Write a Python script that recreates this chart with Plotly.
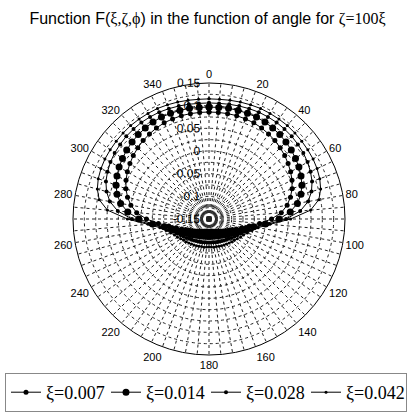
import plotly.graph_objects as go

# Angle in degrees (0 at top, clockwise), one sample every 5 degrees
angles = list(range(0, 365, 5))

# F(xi, zeta, phi) for zeta = 100 xi, one list per xi value
f_xi_0007 = [
    0.086, 0.086, 0.086, 0.086, 0.085, 0.084, 0.082, 0.079, 0.076, 0.072, 0.068, 0.063,
    0.058, 0.052, 0.045, 0.036, 0.025, 0.010, -0.012, -0.038, -0.060, -0.075, -0.086, -0.094,
    -0.100, -0.105, -0.109, -0.112, -0.115, -0.117, -0.119, -0.120, -0.121, -0.122, -0.123, -0.123,
    -0.123,
    -0.123, -0.123, -0.122, -0.121, -0.120, -0.119, -0.117, -0.115, -0.112, -0.109, -0.105, -0.100,
    -0.094, -0.086, -0.075, -0.060, -0.038, -0.012, 0.010, 0.025, 0.036, 0.045, 0.052, 0.058,
    0.063, 0.068, 0.072, 0.076, 0.079, 0.082, 0.084, 0.085, 0.086, 0.086, 0.086,
    0.086,
]
f_xi_0014 = [
    0.097, 0.097, 0.098, 0.098, 0.098, 0.098, 0.097, 0.095, 0.093, 0.090, 0.087, 0.083,
    0.079, 0.074, 0.068, 0.060, 0.048, 0.030, 0.005, -0.025, -0.050, -0.065, -0.075, -0.083,
    -0.089, -0.094, -0.098, -0.101, -0.104, -0.106, -0.108, -0.109, -0.110, -0.111, -0.112, -0.112,
    -0.112,
    -0.112, -0.112, -0.111, -0.110, -0.109, -0.108, -0.106, -0.104, -0.101, -0.098, -0.094, -0.089,
    -0.083, -0.075, -0.065, -0.050, -0.025, 0.005, 0.030, 0.048, 0.060, 0.068, 0.074, 0.079,
    0.083, 0.087, 0.090, 0.093, 0.095, 0.097, 0.098, 0.098, 0.098, 0.098, 0.097,
    0.097,
]
f_xi_0028 = [
    0.106, 0.106, 0.107, 0.108, 0.109, 0.110, 0.110, 0.110, 0.109, 0.108, 0.106, 0.104,
    0.101, 0.097, 0.092, 0.084, 0.072, 0.052, 0.020, -0.020, -0.045, -0.058, -0.067, -0.073,
    -0.078, -0.082, -0.085, -0.088, -0.090, -0.092, -0.094, -0.095, -0.096, -0.097, -0.098, -0.098,
    -0.098,
    -0.098, -0.098, -0.097, -0.096, -0.095, -0.094, -0.092, -0.090, -0.088, -0.085, -0.082, -0.078,
    -0.073, -0.067, -0.058, -0.045, -0.020, 0.020, 0.052, 0.072, 0.084, 0.092, 0.097, 0.101,
    0.104, 0.106, 0.108, 0.109, 0.110, 0.110, 0.110, 0.109, 0.108, 0.107, 0.106,
    0.106,
]
f_xi_0042 = [
    0.115, 0.115, 0.116, 0.117, 0.118, 0.119, 0.119, 0.119, 0.119, 0.118, 0.117, 0.116,
    0.115, 0.113, 0.110, 0.105, 0.096, 0.075, 0.030, -0.015, -0.040, -0.052, -0.060, -0.066,
    -0.070, -0.074, -0.077, -0.079, -0.081, -0.083, -0.084, -0.085, -0.086, -0.087, -0.087, -0.088,
    -0.088,
    -0.088, -0.087, -0.087, -0.086, -0.085, -0.084, -0.083, -0.081, -0.079, -0.077, -0.074, -0.070,
    -0.066, -0.060, -0.052, -0.040, -0.015, 0.030, 0.075, 0.096, 0.105, 0.110, 0.113, 0.115,
    0.116, 0.117, 0.118, 0.119, 0.119, 0.119, 0.119, 0.118, 0.117, 0.116, 0.115,
    0.115,
]

series_names = ["ξ=0.007", "ξ=0.014", "ξ=0.028", "ξ=0.042"]
series_values = [f_xi_0007, f_xi_0014, f_xi_0028, f_xi_0042]
marker_sizes = [5, 7, 4, 3]

# Radial grid every 0.025, labels every 0.05
radial_ticks = [-0.15, -0.125, -0.1, -0.075, -0.05, -0.025, 0.0, 0.025, 0.05, 0.075, 0.1, 0.125, 0.15]
radial_labels = ["-0.15", "", "-0.1", "", "-0.05", "", "0", "", "0.05", "", "0.1", "", "0.15"]

# Labels end at the vertical axis line; a small no-break-space pad keeps
# them just clear of it.
NBSP = "\u00a0"
radial_text = [(t + NBSP * 2) if t else "" for t in radial_labels]

# Angular grid every 5 degrees, labels every 20
angle_ticks = list(range(0, 360, 5))
angle_labels = [str(a) if a % 20 == 0 else "" for a in angle_ticks]

fig = go.Figure()
for name, vals, msize in zip(series_names, series_values, marker_sizes):
    fig.add_trace(go.Scatterpolar(
        r=vals,
        theta=angles,
        mode="lines+markers",
        name=name,
        line=dict(color="black", width=1),
        marker=dict(color="black", size=msize, symbol="circle"),
    ))

W, H = 415, 414
cx, cy, rad = 209, 219, 136

grid_col = "#222222"
serif = "Liberation Serif, Times New Roman, serif"
sans = "Liberation Sans, Arial, sans-serif"

fig.update_layout(
    width=W, height=H,
    margin=dict(l=0, r=0, t=0, b=0, autoexpand=False),
    paper_bgcolor="white",
    plot_bgcolor="white",
    title=dict(
        text=("Function F(<span style='font-family:Liberation Serif'>ξ,ζ,ϕ</span>) "
              "in the function of angle for <span style='font-family:Liberation Serif'>ζ=100ξ</span>"),
        x=0.5, xanchor="center",
        y=1 - 18 / H, yanchor="middle",
        font=dict(family=sans, size=16, color="black"),
    ),
    polar=dict(
        domain=dict(x=[(cx - rad) / W, (cx + rad) / W],
                    y=[(H - cy - rad) / H, (H - cy + rad) / H]),
        bgcolor="white",
        angularaxis=dict(
            rotation=90, direction="clockwise",
            tickmode="array", tickvals=angle_ticks, ticktext=angle_labels,
            ticks="",
            showgrid=True, gridcolor=grid_col, gridwidth=0.7, griddash="dot",
            showline=True, linecolor="black", linewidth=1,
            tickfont=dict(family=sans, size=11, color="black"),
        ),
        radialaxis=dict(
            range=[-0.15, 0.15],
            tickmode="array", tickvals=radial_ticks, ticktext=radial_text,
            angle=89.9, tickangle=90, side="counterclockwise",
            ticks="",
            showline=False,
            showgrid=True, gridcolor=grid_col, gridwidth=0.7, griddash="dot",
            tickfont=dict(family=sans, size=12, color="black"),
        ),
    ),
    legend=dict(
        orientation="h",
        x=5 / W, xanchor="left",
        y=2 / H, yanchor="bottom",
        bordercolor="#888888", borderwidth=1,
        bgcolor="white",
        font=dict(family=serif, size=18, color="black"),
        entrywidth=55, itemwidth=30,
        tracegroupgap=0,
    ),
    showlegend=True,
)

fig.write_html("out.html")
